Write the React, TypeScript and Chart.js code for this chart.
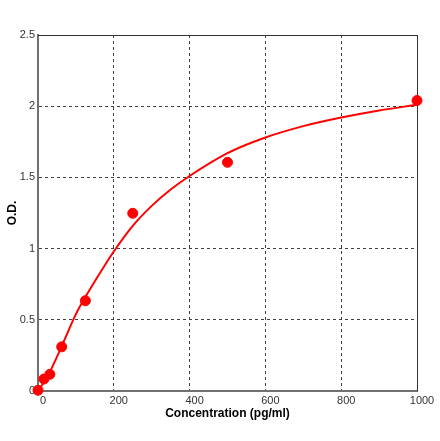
import { useEffect, useRef } from "react"
import { Chart, registerables } from "chart.js"

Chart.register(...registerables)

// standard points
const concentrations = [0, 15.6, 31.25, 62.5, 125, 250, 500, 1000]
const odValues = [0.005, 0.084, 0.117, 0.31, 0.634, 1.248, 1.606, 2.04]

// fitted curve
const curveX = [0, 25, 50, 75, 100, 150, 200, 250, 300, 350, 400, 500, 600, 700, 800, 900, 1000]
const curveY = [0.0, 0.1, 0.24, 0.39, 0.54, 0.77, 0.98, 1.16, 1.3, 1.415, 1.51, 1.67, 1.78, 1.86, 1.92, 1.97, 2.01]

const xTicks = [0, 200, 400, 600, 800, 1000]
const yTicks = [0, 0.5, 1, 1.5, 2, 2.5]

const boxPlugin = {
  id: "plotBox",
  beforeDatasetsDraw(chart: Chart) {
    const { ctx, chartArea } = chart
    ctx.save()
    ctx.strokeStyle = "#333333"
    ctx.lineWidth = 1
    ctx.beginPath()
    ctx.moveTo(chartArea.left, chartArea.top + 0.5)
    ctx.lineTo(chartArea.right + 0.5, chartArea.top + 0.5)
    ctx.lineTo(chartArea.right + 0.5, chartArea.bottom)
    ctx.stroke()
    ctx.restore()
  },
}

export default function App() {
  const canvasRef = useRef<HTMLCanvasElement>(null)
  const chartRef = useRef<Chart | null>(null)

  useEffect(() => {
    if (!canvasRef.current) return
    if (chartRef.current) chartRef.current.destroy()

    const tickFont = { family: "'Liberation Sans', Arial, sans-serif", size: 11 }
    const titleFont = { family: "'Liberation Sans', Arial, sans-serif", size: 12, weight: "bold" as const }

    chartRef.current = new Chart(canvasRef.current, {
      type: "line",
      data: {
        datasets: [
          {
            label: "curve",
            data: curveX.map((x, i) => ({ x, y: curveY[i] })),
            borderColor: "#ff0000",
            borderWidth: 2,
            pointRadius: 0,
            cubicInterpolationMode: "monotone",
            fill: false,
            order: 1,
          },
          {
            label: "standards",
            data: concentrations.map((x, i) => ({ x, y: odValues[i] })),
            showLine: false,
            pointRadius: 5,
            pointBackgroundColor: "#ff0000",
            pointBorderColor: "#ff0000",
            pointBorderWidth: 1,
            clip: false,
            order: 0,
          },
        ],
      },
      options: {
        responsive: true,
        maintainAspectRatio: false,
        animation: false,
        layout: { padding: { left: 0, top: 35, right: 23, bottom: 0 } },
        plugins: {
          legend: { display: false },
          tooltip: { enabled: false },
        },
        scales: {
          x: {
            type: "linear",
            min: 0,
            max: 1000,
            afterFit: (scale: any) => {
              scale.height = 50
            },
            afterBuildTicks: (scale: any) => {
              scale.ticks = xTicks.map((v) => ({ value: v }))
            },
            ticks: {
              font: tickFont,
              color: "#333333",
              padding: 3,
              maxRotation: 0,
              labelOffset: 5,
              callback: (v: any) => String(v),
            },
            grid: { color: "#404040", lineWidth: 1, drawTicks: false },
            border: { display: true, color: "#707070", width: 2, dash: [3, 3] },
            title: {
              display: true,
              text: "Concentration (pg/ml)",
              font: titleFont,
              color: "#000000",
              padding: { top: 0, bottom: 20 },
            },
          },
          y: {
            type: "linear",
            min: 0,
            max: 2.5,
            afterFit: (scale: any) => {
              scale.width = 38
            },
            afterBuildTicks: (scale: any) => {
              scale.ticks = yTicks.map((v) => ({ value: v }))
            },
            ticks: {
              font: tickFont,
              color: "#333333",
              padding: 3,
              callback: (v: any) => String(v),
            },
            grid: { color: "#404040", lineWidth: 1, drawTicks: false },
            border: { display: true, color: "#707070", width: 2, dash: [3, 3] },
            title: {
              display: true,
              text: "O.D.",
              font: titleFont,
              color: "#000000",
              padding: { top: 5, bottom: 0 },
            },
          },
        },
      },
      plugins: [boxPlugin],
    })

    return () => {
      if (chartRef.current) {
        chartRef.current.destroy()
        chartRef.current = null
      }
    }
  }, [])

  return (
    <div style={{ position: "fixed", left: 0, top: 0, width: 440, height: 441, background: "#ffffff" }}>
      <canvas ref={canvasRef}></canvas>
    </div>
  )
}
